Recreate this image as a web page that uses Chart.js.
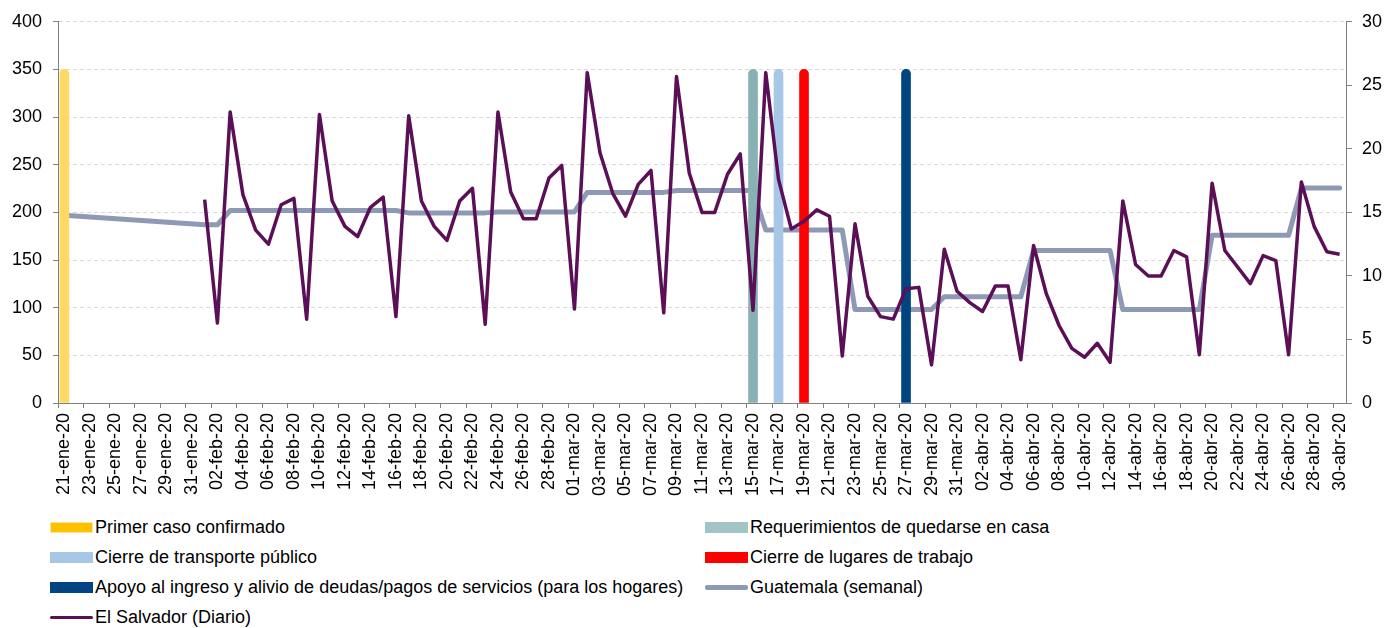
<!DOCTYPE html>
<html>
<head>
<meta charset="utf-8">
<script src="https://cdn.jsdelivr.net/npm/chart.js@4.4.0/dist/chart.umd.min.js"></script>
<style>
  body { margin: 0; background: #fff; font-family: "Liberation Sans", Arial, sans-serif; }
  #wrap { position: relative; width: 1384px; height: 628px; }
  #legend {
    position: absolute; left: 0; top: 512px; width: 1384px;
    padding-left: 50px; box-sizing: border-box;
    display: grid; grid-template-columns: 655px 679px; grid-auto-rows: 30px;
    font-size: 18px; color: #000;
  }
  .item { display: flex; align-items: center; white-space: nowrap; }
  .sw { width: 43px; margin-right: 2px; box-sizing: border-box; }
</style>
</head>
<body>
<div id="wrap">
  <canvas id="chart" width="1384" height="510"></canvas>
  <div id="legend"></div>
</div>
<script>
// months shown on the axis (21-ene-20 .. 30-abr-20)
const months = ["ene", "feb", "mar", "abr"];
const monthFirst = [21, 1, 1, 1];
const monthLast = [31, 29, 31, 30];

const labels = [];
months.forEach((m, k) => {
  for (let d = monthFirst[k]; d <= monthLast[k]; d++) {
    labels.push(String(d).padStart(2, "0") + "-" + m + "-20");
  }
});

// Guatemala (semanal), left axis
const guatemala = [
  197, null, null, null, null, null, null, null, null, null, null,
  187, 187, 202, 202, 202, 202, 202, 202, 202, 202, 202, 202, 202, 202, 202, 202,
  199.5, 199.5, 199.5, 199.5, 199.5, 199.5, 199.5,
  200.5, 200.5, 200.5, 200.5, 200.5, 200.5, 200.5,
  221, 221, 221, 221, 221, 221, 221,
  223, 223, 223, 223, 223, 223, 223,
  181.5, 181.5, 181.5, 181.5, 181.5, 181.5, 181.5,
  98, 98, 98, 98, 98, 98, 98,
  111.5, 111.5, 111.5, 111.5, 111.5, 111.5, 111.5,
  160, 160, 160, 160, 160, 160, 160,
  98, 98, 98, 98, 98, 98, 98,
  176, 176, 176, 176, 176, 176, 176,
  225.5, 225.5, 225.5, 225.5
];

// El Salvador (Diario), right axis
const elSalvador = [
  null, null, null, null, null, null, null, null, null, null, null,
  16.0, 6.3, 22.9, 16.4, 13.6, 12.5, 15.6, 16.1, 6.6, 22.7,
  15.9, 13.9, 13.1, 15.4, 16.2, 6.8, 22.6, 15.9, 13.9, 12.8,
  15.9, 16.9, 6.2, 22.9, 16.6, 14.5, 14.5, 17.7, 18.7, 7.4,
  26.0, 19.7, 16.5, 14.7, 17.2, 18.3, 7.1, 25.7, 18.1, 15.0,
  15.0, 18.0, 19.6, 7.3, 26.0, 17.6, 13.7, 14.3, 15.2, 14.7,
  3.7, 14.1, 8.4, 6.8, 6.6, 9.0, 9.1, 3.0, 12.1, 8.8,
  7.9, 7.2, 9.2, 9.2, 3.4, 12.4, 8.6, 6.1, 4.3, 3.6,
  4.7, 3.2, 15.9, 10.9, 10.0, 10.0, 12.0, 11.5, 3.8, 17.3,
  12.0, 10.7, 9.4, 11.6, 11.2, 3.8, 17.4, 13.9, 11.9, 11.7
];

// policy events (vertical markers on the left axis)
const eventNames = [
  "Primer caso confirmado",
  "Requerimientos de quedarse en casa",
  "Cierre de transporte público",
  "Cierre de lugares de trabajo",
  "Apoyo al ingreso y alivio de deudas/pagos de servicios (para los hogares)"
];
const eventDates = ["21-ene-20", "15-mar-20", "17-mar-20", "19-mar-20", "27-mar-20"];
const eventHeight = 350;
const eventColors = ["#FFD966", "#88B1B4", "#A7C7E6", "#FF0000", "#004481"];
const eventLegendColors = ["#FFC000", "#A3C4C5", "#A7C7E6", "#FF0000", "#004481"];

const eventSets = eventNames.map((name, k) => ({
  type: "bar",
  label: name,
  data: [{ x: eventDates[k], y: eventHeight }],
  backgroundColor: eventColors[k],
  barThickness: 9,
  grouped: false,
  borderRadius: 5,
  borderSkipped: "start",
  yAxisID: "y",
  order: 1
}));

const datasets = [
  eventSets[0], eventSets[1], eventSets[2], eventSets[3], eventSets[4],
  {
    type: "line",
    label: "Guatemala (semanal)",
    data: guatemala,
    borderColor: "#8E9AB5",
    borderWidth: 5,
    pointRadius: 0,
    tension: 0,
    spanGaps: true,
    borderJoinStyle: "round",
    borderCapStyle: "round",
    yAxisID: "y",
    order: 2
  },
  {
    type: "line",
    label: "El Salvador (Diario)",
    data: elSalvador,
    borderColor: "#5A0F57",
    borderWidth: 3.5,
    pointRadius: 0,
    tension: 0,
    borderJoinStyle: "round",
    yAxisID: "y1",
    order: 0
  }
];

const font = { family: "'Liberation Sans', Arial, sans-serif", size: 18 };

const chart = new Chart(document.getElementById("chart"), {
  type: "bar",
  data: { labels, datasets },
  options: {
    responsive: false,
    animation: false,
    devicePixelRatio: 1,
    layout: { padding: { top: 20, left: 0, right: 0, bottom: 0 } },
    plugins: { legend: { display: false }, tooltip: { enabled: false } },
    scales: {
      x: {
        offset: true,
        grid: {
          offset: true,
          drawOnChartArea: false,
          tickLength: 5,
          tickColor: (c) => (c.index % 2 === 0 ? "#808080" : "rgba(0,0,0,0)")
        },
        border: { color: "#808080", width: 1 },
        ticks: {
          autoSkip: false,
          maxRotation: 90,
          minRotation: 90,
          padding: 5,
          color: "#000",
          font,
          callback: function (v, i) {
            return i % 2 === 0 ? this.getLabelForValue(v) : "";
          }
        },
        afterFit: (s) => { s.height = 107; }
      },
      y: {
        position: "left",
        min: 0,
        max: 400,
        ticks: { stepSize: 50, color: "#000", font, padding: 11 },
        grid: {
          color: "#D9D9D9",
          tickBorderDash: [],
          tickColor: "#808080",
          tickLength: 5
        },
        border: { color: "#808080", width: 1, dash: [4, 3] },
        afterFit: (s) => { s.width = 58; }
      },
      y1: {
        position: "right",
        min: 0,
        max: 30,
        ticks: { stepSize: 5, color: "#000", font, padding: 10 },
        grid: { drawOnChartArea: false, tickColor: "#808080", tickLength: 6 },
        border: { color: "#808080", width: 1 },
        afterFit: (s) => { s.width = 38; }
      }
    }
  }
});

// two-column legend under the chart
const legendItems = [
  { label: eventNames[0], color: eventLegendColors[0], kind: "box", edge: "#FFE699" },
  { label: eventNames[1], color: eventLegendColors[1], kind: "box" },
  { label: eventNames[2], color: eventLegendColors[2], kind: "box" },
  { label: eventNames[3], color: eventLegendColors[3], kind: "box" },
  { label: eventNames[4], color: eventLegendColors[4], kind: "box" },
  { label: "Guatemala (semanal)", color: "#8E9AB5", kind: "line", w: 5 },
  { label: "El Salvador (Diario)", color: "#5A0F57", kind: "line", w: 3 }
];
const legend = document.getElementById("legend");
legendItems.forEach((it) => {
  const row = document.createElement("div");
  row.className = "item";
  const sw = document.createElement("span");
  sw.className = "sw";
  if (it.kind === "box") {
    sw.style.height = "11px";
    sw.style.background = it.color;
    if (it.edge) sw.style.border = "1px solid " + it.edge;
  } else {
    sw.style.height = it.w + "px";
    sw.style.background = it.color;
    sw.style.borderRadius = "2px";
  }
  const tx = document.createElement("span");
  tx.textContent = it.label;
  row.appendChild(sw);
  row.appendChild(tx);
  legend.appendChild(row);
});
</script>
</body>
</html>
